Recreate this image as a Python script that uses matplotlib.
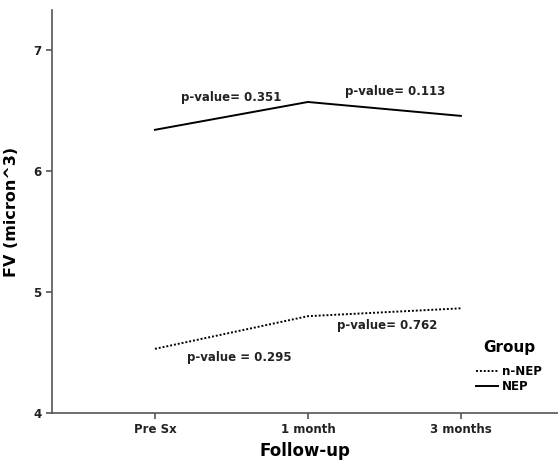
import matplotlib
matplotlib.use("Agg")
import matplotlib.pyplot as plt

categories = ["Pre Sx", "1 month", "3 months"]
nep = [6.34, 6.57, 6.455]
n_nep = [4.53, 4.80, 4.865]
yticks = [4, 5, 6, 7]
annotations = [
    ("p-value= 0.351", 0.5, 6.61),
    ("p-value= 0.113", 1.57, 6.66),
    ("p-value = 0.295", 0.55, 4.46),
    ("p-value= 0.762", 1.52, 4.72),
]

plt.rcParams['font.family'] = ['DejaVu Sans']
fig = plt.figure(figsize=(5.58, 4.61), dpi=100)
ax = fig.add_axes([52/558, 48/461, (558-52)/558, 403/461])

x = list(range(len(categories)))
ax.plot(x, n_nep, color='black', linestyle=(0, (1.0, 1.0)), linewidth=1.4, label='n-NEP')
ax.plot(x, nep, color='black', linestyle='-', linewidth=1.4, label='NEP')

for txt, xx, yy in annotations:
    ax.text(xx, yy, txt, ha='center', va='center', fontsize=8.5, fontweight='bold', color='#222222')

ax.set_xlim(-0.673, 2.635)
ax.set_ylim(4, 7.33)
ax.set_xticks(x)
ax.set_xticklabels(categories)
ax.set_yticks(yticks)
ax.set_yticklabels([str(t) for t in yticks])
for s in ['top', 'right']:
    ax.spines[s].set_visible(False)
for s in ['left', 'bottom']:
    ax.spines[s].set_color('#555555')
    ax.spines[s].set_linewidth(1.2)
ax.tick_params(direction='out', length=4, width=1.2, color='#555555', labelsize=8.5)
for lab in ax.get_xticklabels() + ax.get_yticklabels():
    lab.set_fontweight('bold')
    lab.set_color('#222222')
ax.set_xlabel("Follow-up", fontsize=12, fontweight='bold', labelpad=4)
ax.set_ylabel("FV (micron^3)", fontsize=11.5, fontweight='bold', labelpad=10)

leg = ax.legend(title="Group", loc='upper left', bbox_to_anchor=(476/558, 1 - 340/461),
                bbox_transform=fig.transFigure,
                frameon=False, fontsize=8.5, title_fontsize=11,
                handlelength=1.9, handletextpad=0.3, labelspacing=0.2,
                borderaxespad=0.0, borderpad=0.0)
leg.get_title().set_fontweight('bold')
leg._legend_box.sep = 7
for t in leg.get_texts():
    t.set_fontweight('bold')

fig.savefig("out.png", dpi=100)
